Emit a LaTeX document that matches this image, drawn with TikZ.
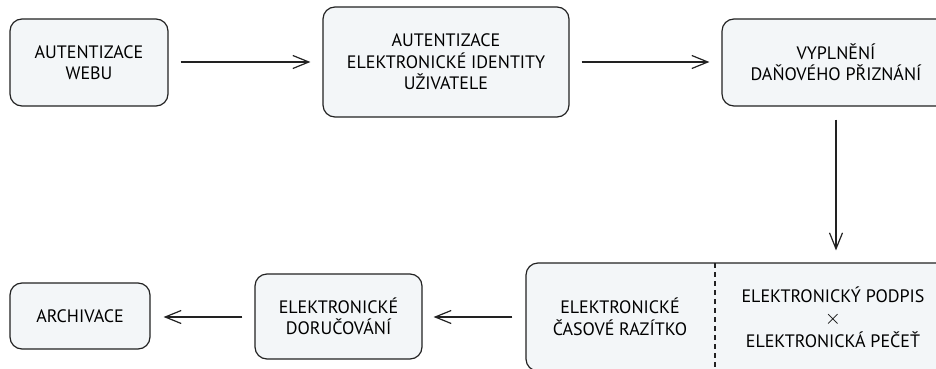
\documentclass[tikz,border=0pt]{standalone}
\usepackage{fontspec}
\setmainfont{PT Sans}
\usetikzlibrary{arrows.meta}
\definecolor{boxfill}{HTML}{F3F6F8}
\definecolor{edge}{HTML}{222222}
\tikzset{
  box/.style={draw=edge, fill=boxfill, line width=1.2pt, rounded corners=12pt, align=center,
    font=\fontsize{18}{21.5}\selectfont, inner sep=0pt},
  lbl/.style={align=center, font=\fontsize{18}{21.5}\selectfont, inner sep=0pt},
  arr/.style={draw=edge, line width=1.2pt, -{Straight Barb[length=16pt,width=13pt,line width=1.2pt]},
    shorten >=12pt, shorten <=12pt},
  dashline/.style={draw=edge, line width=1.1pt, dash pattern=on 5pt off 4pt}
}
\begin{document}
\begin{tikzpicture}[x=1pt,y=-1pt]
\useasboundingbox (0,0) rectangle (936,369);
\clip (0,0) rectangle (936,369);
\node[box, minimum width=158pt, minimum height=87pt] (web) at (89,62.5) {AUTENTIZACE\\WEBU};
\node[box, minimum width=246pt, minimum height=110pt] (eid) at (446,62) {AUTENTIZACE\\ELEKTRONICKÉ IDENTITY\\UŽIVATELE};
\node[box, minimum width=228pt, minimum height=87pt] (dan) at (836,62.5) {VYPLNĚNÍ\\DAŇOVÉHO PŘIZNÁNÍ};
\node[box, minimum width=424pt, minimum height=108pt] (big) at (738,317) {};
\node[lbl] (cas) at (620,317) {ELEKTRONICKÉ\\ČASOVÉ RAZÍTKO};
\node[lbl] (pod) at (833,317) {ELEKTRONICKÝ PODPIS\\[1pt]{\fontsize{20}{21.5}\selectfont\smash{$\times$}}\\[1pt]ELEKTRONICKÁ PEČEŤ};
\coordinate (dtop) at (715,263);
\coordinate (dbot) at (715,371);
\draw[dashline] (dtop) -- (dbot);
\node[box, minimum width=167pt, minimum height=85pt] (dor) at (338.5,316.5) {ELEKTRONICKÉ\\DORUČOVÁNÍ};
\node[box, minimum width=140pt, minimum height=66pt] (arch) at (80,316) {ARCHIVACE};
\draw[arr] (web.east |- 0,62) -- (eid.west |- 0,62);
\draw[arr] (eid.east |- 0,62) -- (dan.west |- 0,62);
\draw[arr, shorten <=13pt] (dan.south) -- (dan.south |- big.north);
\draw[arr, shorten <=13pt, shorten >=11pt] (big.west) -- (dor.east |- big.west);
\draw[arr, shorten <=12pt, shorten >=13pt] (dor.west |- 0,317) -- (arch.east |- 0,317);
\end{tikzpicture}
\end{document}
